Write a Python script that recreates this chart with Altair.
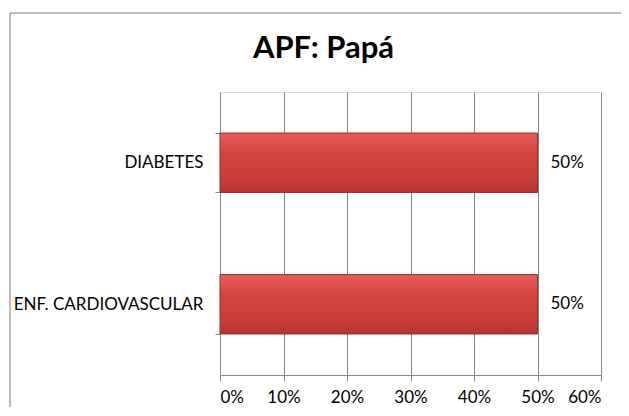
import altair as alt
import pandas as pd

categories = ["DIABETES", "ENF. CARDIOVASCULAR"]
values = [0.50, 0.50]
x_ticks = [0, 0.1, 0.2, 0.3, 0.4, 0.5, 0.6]
title_text = "APF: Papá"

df = pd.DataFrame({"cat": categories, "val": values})

FONT = "Lato"
GRAY = "#868686"

y_enc = alt.Y(
    "cat:N",
    sort=categories,
    scale=alt.Scale(paddingInner=0.58, paddingOuter=0.29),
    axis=alt.Axis(
        title=None, tickBand="extent", tickSize=5, labelPadding=12,
        labelFontSize=17, labelFont=FONT, labelColor="black",
        domainColor=GRAY, tickColor=GRAY, grid=False, labelLimit=300,
    ),
)
x_enc = alt.X(
    "val:Q",
    scale=alt.Scale(domain=[0, 0.6], nice=False),
    axis=alt.Axis(
        title=None, values=x_ticks, format=".0%", grid=True, gridColor=GRAY,
        tickSize=6, tickColor=GRAY, domainColor=GRAY, labelPadding=8,
        labelFontSize=17, labelFont=FONT, labelColor="black",
    ),
)

frame = alt.Chart(df).mark_rect(fillOpacity=0, stroke="#a6a6a6", strokeWidth=1).encode(
    x=alt.value(-210), x2=alt.value(440), y=alt.value(-79), y2=alt.value(420)
)

bars = alt.Chart(df).mark_bar(
    fill=alt.Gradient(
        gradient="linear", x1=0, x2=0, y1=0, y2=1,
        stops=[
            alt.GradientStop(color="#e45d59", offset=0),
            alt.GradientStop(color="#d4443f", offset=0.35),
            alt.GradientStop(color="#c83d3a", offset=0.8),
            alt.GradientStop(color="#b13432", offset=1),
        ],
    ),
    stroke="#9a2e2b", strokeWidth=1,
).encode(x=x_enc, y=y_enc)

labels = alt.Chart(df).mark_text(
    align="left", baseline="middle", dx=13, fontSize=17, font=FONT, color="black"
).encode(x="val:Q", y=alt.Y("cat:N", sort=categories), text=alt.Text("val:Q", format=".0%"))

chart = alt.layer(frame, bars, labels).properties(
    width=381, height=283,
    title=alt.TitleParams(
        title_text, font=FONT, fontSize=31, fontWeight="bold", anchor="middle",
        frame="group", dx=-87, offset=-76, baseline="alphabetic", color="black",
    ),
    autosize=alt.AutoSizeParams(type="none"),
    padding={"left": 212, "top": 84, "right": 20, "bottom": 32},
).configure_view(stroke=None).configure(background="white")

chart.save("out.html", embed_options={"renderer": "svg", "actions": False})
